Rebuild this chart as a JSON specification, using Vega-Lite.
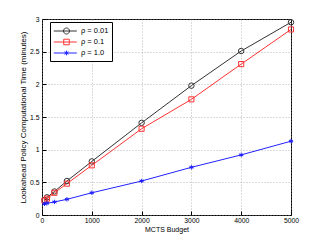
{
  "$schema": "https://vega.github.io/schema/vega-lite/v6.json",
  "width": 249,
  "height": 196,
  "autosize": {"type": "none"},
  "padding": {"left": 42, "top": 19, "right": 29, "bottom": 26},
  "background": "white",
  "config": {
    "font": "Liberation Sans",
    "view": {"stroke": "black", "strokeWidth": 1},
    "axis": {
      "labelFont": "Liberation Sans",
      "titleFont": "Liberation Sans",
      "labelFontSize": 6.8,
      "titleFontSize": 7,
      "titleFontWeight": "normal",
      "labelColor": "#000",
      "titleColor": "#000",
      "domainColor": "#000",
      "tickColor": "#000",
      "gridColor": "#999",
      "gridDash": [1, 2],
      "gridWidth": 0.7,
      "domain": false,
      "labelFlush": false
    },
    "legend": {"labelFont": "Liberation Sans"}
  },
  "data": {
    "values": [
      {"budget": 50, "time": 0.23, "series": "ρ = 0.01"},
      {"budget": 100, "time": 0.27, "series": "ρ = 0.01"},
      {"budget": 250, "time": 0.36, "series": "ρ = 0.01"},
      {"budget": 500, "time": 0.52, "series": "ρ = 0.01"},
      {"budget": 1000, "time": 0.82, "series": "ρ = 0.01"},
      {"budget": 2000, "time": 1.41, "series": "ρ = 0.01"},
      {"budget": 3000, "time": 1.98, "series": "ρ = 0.01"},
      {"budget": 4000, "time": 2.51, "series": "ρ = 0.01"},
      {"budget": 5000, "time": 2.95, "series": "ρ = 0.01"},
      {"budget": 50, "time": 0.22, "series": "ρ = 0.1"},
      {"budget": 100, "time": 0.25, "series": "ρ = 0.1"},
      {"budget": 250, "time": 0.34, "series": "ρ = 0.1"},
      {"budget": 500, "time": 0.48, "series": "ρ = 0.1"},
      {"budget": 1000, "time": 0.76, "series": "ρ = 0.1"},
      {"budget": 2000, "time": 1.32, "series": "ρ = 0.1"},
      {"budget": 3000, "time": 1.77, "series": "ρ = 0.1"},
      {"budget": 4000, "time": 2.31, "series": "ρ = 0.1"},
      {"budget": 5000, "time": 2.84, "series": "ρ = 0.1"},
      {"budget": 50, "time": 0.17, "series": "ρ = 1.0"},
      {"budget": 100, "time": 0.18, "series": "ρ = 1.0"},
      {"budget": 250, "time": 0.2, "series": "ρ = 1.0"},
      {"budget": 500, "time": 0.24, "series": "ρ = 1.0"},
      {"budget": 1000, "time": 0.34, "series": "ρ = 1.0"},
      {"budget": 2000, "time": 0.52, "series": "ρ = 1.0"},
      {"budget": 3000, "time": 0.73, "series": "ρ = 1.0"},
      {"budget": 4000, "time": 0.92, "series": "ρ = 1.0"},
      {"budget": 5000, "time": 1.13, "series": "ρ = 1.0"}
    ]
  },
  "encoding": {
    "x": {
      "field": "budget",
      "type": "quantitative",
      "scale": {"domain": [0, 5000], "nice": false},
      "axis": {
        "title": "MCTS Budget",
        "values": [0, 1000, 2000, 3000, 4000, 5000],
        "format": "d",
        "tickSize": -4,
        "labelPadding": 6,
        "titlePadding": 2
      }
    },
    "y": {
      "field": "time",
      "type": "quantitative",
      "scale": {"domain": [0, 3], "nice": false},
      "axis": {
        "title": "Lookahead Policy Computational Time (minutes)",
        "values": [0, 0.5, 1, 1.5, 2, 2.5, 3],
        "format": "~g",
        "tickSize": -4,
        "labelPadding": 7,
        "titlePadding": 2,
        "titleFontSize": 8
      }
    },
    "color": {
      "field": "series",
      "type": "nominal",
      "scale": {
        "domain": ["ρ = 0.01", "ρ = 0.1", "ρ = 1.0"],
        "range": ["#333333", "#ff3333", "#2222ff"]
      },
      "legend": {
        "title": null,
        "orient": "none",
        "legendX": 8,
        "legendY": 3,
        "padding": 3,
        "strokeColor": "#000",
        "fillColor": "white",
        "labelFontSize": 7.5,
        "labelColor": "#000",
        "symbolSize": 110,
        "rowPadding": 0,
        "labelOffset": 16,
        "symbolStrokeWidth": 1,
        "symbolOpacity": 1,
        "symbolFillColor": "transparent"
      }
    }
  },
  "layer": [
    {
      "mark": {"type": "line", "strokeWidth": 1},
      "encoding": {"detail": {"field": "series"}}
    },
    {
      "mark": {"type": "point", "filled": false, "opacity": 0, "size": 110},
      "encoding": {
        "shape": {
          "field": "series",
          "type": "nominal",
          "scale": {
            "domain": ["ρ = 0.01", "ρ = 0.1", "ρ = 1.0"],
            "range": [
              "M-1,0L3.4,0M0.86,0A0.57,0.57 0 1,0 2,0A0.57,0.57 0 1,0 0.86,0",
              "M-1,0L3.4,0M0.9,-0.53L1.96,-0.53L1.96,0.53L0.9,0.53Z",
              "M-1,0L3.4,0M1.43,-0.45L1.43,0.45M1.05,-0.25L1.81,0.25M1.05,0.25L1.81,-0.25"
            ]
          }
        }
      }
    },
    {
      "transform": [{"filter": "datum.series === 'ρ = 0.01'"}],
      "mark": {"type": "point", "shape": "circle", "filled": false, "strokeWidth": 1, "opacity": 1, "size": 30}
    },
    {
      "transform": [{"filter": "datum.series === 'ρ = 0.1'"}],
      "mark": {"type": "point", "shape": "square", "filled": false, "strokeWidth": 1, "opacity": 1, "size": 26}
    },
    {
      "transform": [{"filter": "datum.series === 'ρ = 1.0'"}],
      "mark": {"type": "point", "shape": "M0,-0.8L0,0.8M-0.7,-0.4L0.7,0.4M-0.7,0.4L0.7,-0.4M-0.8,0L0.8,0", "filled": false, "strokeWidth": 1, "opacity": 1, "size": 30}
    }
  ]
}
